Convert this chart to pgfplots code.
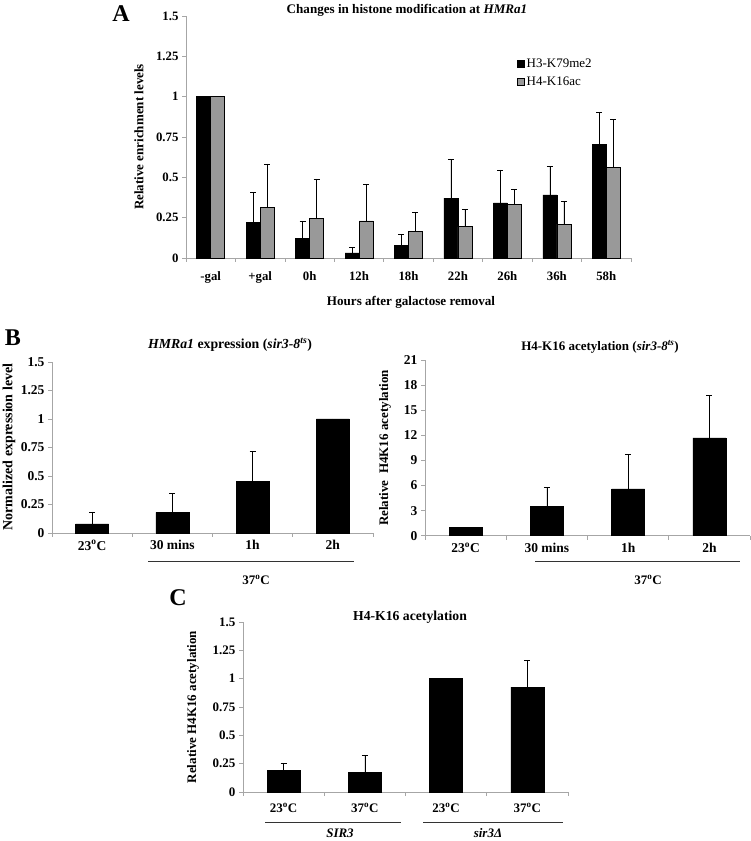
\documentclass[border=0pt]{standalone}
\usepackage{pgfplots}
\pgfplotsset{compat=1.18}
\usepackage{fontspec}
\setmainfont{Liberation Serif}
\newcommand\fs[1]{\fontsize{#1}{#1}\selectfont}
\newcommand\dC{\textsuperscript{o}C}
\pgfplotsset{
 base/.style={
  scale only axis,
  axis lines*=left,
  axis line style={draw=gray!70, line width=0.7pt},
  ymin=0,
  tick align=outside,
  major tick length=4pt,
  minor tick length=4pt,
  ytick style={draw=gray!70, line width=0.6pt},
  major x tick style={draw=none},
  minor x tick style={draw=gray!70, line width=0.6pt},
  /pgf/number format/assume math mode=true,
  ybar,
  clip=false,
  error bars/y dir=plus,
  error bars/y explicit,
  error bars/error bar style={black, line width=0.6pt},
  error bars/error mark options={black, rotate=90, line width=0.6pt, mark size=3pt},
 },
 blk/.style={fill=black, draw=black, line width=0.5pt},
 gry/.style={fill=black!40, draw=black, line width=0.5pt},
}
\begin{document}
\begin{tikzpicture}[x=1pt,y=1pt]
\useasboundingbox (0,0) rectangle (750,841);

% ---------------- Panel A
\begin{axis}[base, at={(186pt,583pt)}, anchor=south west, width=445pt, height=242pt,
 xmin=0.5, xmax=9.5, ymax=1.5, bar width=14pt, ybar=0pt,
 xtick={1,2,3,4,5,6,7,8,9},
 xticklabels={-gal,+gal,0h,12h,18h,22h,26h,36h,58h},
 minor xtick={0.5,1.5,2.5,3.5,4.5,5.5,6.5,7.5,8.5,9.5},
 ytick={0,0.25,0.5,0.75,1,1.25,1.5},
 yticklabels={0,0.25,0.5,0.75,1,1.25,1.5},
 tick label style={font=\bfseries\fs{12.8}},
 xticklabel style={yshift=-6pt},
 legend style={at={(0.737,0.84)}, anchor=north west, draw=none, fill=none,
   font=\fs{13}, row sep=4pt, legend cell align=left},
 legend image code/.code={\draw[#1, draw=black] (0pt,-3.5pt) rectangle (7pt,3.5pt);},
]
\addplot[blk] coordinates {
 (1,1.0) +- (0,0)
 (2,0.222) +- (0,0.187)
 (3,0.122) +- (0,0.106)
 (4,0.031) +- (0,0.033)
 (5,0.079) +- (0,0.066)
 (6,0.371) +- (0,0.243)
 (7,0.342) +- (0,0.204)
 (8,0.392) +- (0,0.174)
 (9,0.703) +- (0,0.199)
};
\addlegendentry{H3-K79me2}
\addplot[gry] coordinates {
 (1,1.0) +- (0,0)
 (2,0.315) +- (0,0.268)
 (3,0.247) +- (0,0.243)
 (4,0.230) +- (0,0.226)
 (5,0.166) +- (0,0.116)
 (6,0.195) +- (0,0.108)
 (7,0.334) +- (0,0.091)
 (8,0.210) +- (0,0.140)
 (9,0.564) +- (0,0.293)
};
\addlegendentry{H4-K16ac}
\end{axis}
\node[font=\bfseries\fs{24}] at (121,827) {A};
\node[font=\bfseries\fs{13.1}] at (407,831) {Changes in histone modification at \textit{HMRa1}};
\node[font=\bfseries\fs{13}, rotate=90] at (139,704) {Relative enrichment levels};
\node[font=\bfseries\fs{13.1}] at (411,539) {Hours after galactose removal};

% ---------------- Panel B left
\begin{axis}[base, at={(52pt,308pt)}, anchor=south west, width=321pt, height=171pt,
 xmin=0.5, xmax=4.5, ymax=1.5, bar width=33pt,
 xtick={1,2,3,4},
 xticklabels={23\dC,30 mins,1h,2h},
 minor xtick={0.5,1.5,2.5,3.5,4.5},
 ytick={0,0.25,0.5,0.75,1,1.25,1.5},
 yticklabels={0,0.25,0.5,0.75,1,1.25,1.5},
 tick label style={font=\bfseries\fs{13.5}},
]
\addplot[blk] coordinates {
 (1,0.080) +- (0,0.105)
 (2,0.180) +- (0,0.170)
 (3,0.450) +- (0,0.265)
 (4,1.000) +- (0,0)
};
\end{axis}
\node[font=\bfseries\fs{24}] at (13,503) {B};
\node[font=\bfseries\fs{13.8}] at (230,496) {\textit{HMRa1} expression (\textit{sir3-8}\textsuperscript{\textit{ts}})};
\node[font=\bfseries\fs{14}, rotate=90] at (9,394) {Normalized expression level};
\draw[black!80, line width=0.8pt] (148,280) -- (354,280);
\node[font=\bfseries\fs{13}] at (256,261) {37\dC};

% ---------------- Panel B right
\begin{axis}[base, at={(425pt,305.3pt)}, anchor=south west, width=325pt, height=175.7pt,
 xmin=0.5, xmax=4.5, ymax=21, bar width=33pt,
 xtick={1,2,3,4},
 xticklabels={23\dC,30 mins,1h,2h},
 minor xtick={0.5,1.5,2.5,3.5,4.5},
 ytick={0,3,6,9,12,15,18,21},
 tick label style={font=\bfseries\fs{13.5}},
]
\addplot[blk] coordinates {
 (1,1.00) +- (0,0)
 (2,3.50) +- (0,2.30)
 (3,5.60) +- (0,4.10)
 (4,11.70) +- (0,5.10)
};
\end{axis}
\node[font=\bfseries\fs{13}] at (600,494) {H4-K16 acetylation (\textit{sir3-8}\textsuperscript{\textit{ts}})};
\node[font=\bfseries\fs{13}, rotate=90] at (385,393) {Relative~ H4K16 acetylation};
\draw[black!80, line width=0.8pt] (535,280) -- (740,280);
\node[font=\bfseries\fs{13}] at (648,261) {37\dC};

% ---------------- Panel C
\begin{axis}[base, at={(243pt,49pt)}, anchor=south west, width=325pt, height=170pt,
 xmin=0.5, xmax=4.5, ymax=1.5, bar width=33pt,
 xtick={1,2,3,4},
 xticklabels={23\dC,37\dC,23\dC,37\dC},
 minor xtick={0.5,1.5,2.5,3.5,4.5},
 ytick={0,0.25,0.5,0.75,1,1.25,1.5},
 yticklabels={0,0.25,0.5,0.75,1,1.25,1.5},
 tick label style={font=\bfseries\fs{13}},
 xticklabel style={yshift=-4pt},
]
\addplot[blk] coordinates {
 (1,0.189) +- (0,0.061)
 (2,0.175) +- (0,0.152)
 (3,1.000) +- (0,0)
 (4,0.925) +- (0,0.235)
};
\end{axis}
\node[font=\bfseries\fs{24}] at (178,243) {C};
\node[font=\bfseries\fs{13.7}] at (410,224) {H4-K16 acetylation};
\node[font=\bfseries\fs{13}, rotate=90] at (193,134) {Relative H4K16 acetylation};
\draw[black!80, line width=0.8pt] (265,19) -- (401,19);
\draw[black!80, line width=0.8pt] (423,19) -- (563,19);
\node[font=\bfseries\fs{13}] at (340,8) {\textit{SIR3}};
\node[font=\bfseries\fs{13}] at (488,8) {\textit{sir3Δ}};
\end{tikzpicture}
\end{document}
